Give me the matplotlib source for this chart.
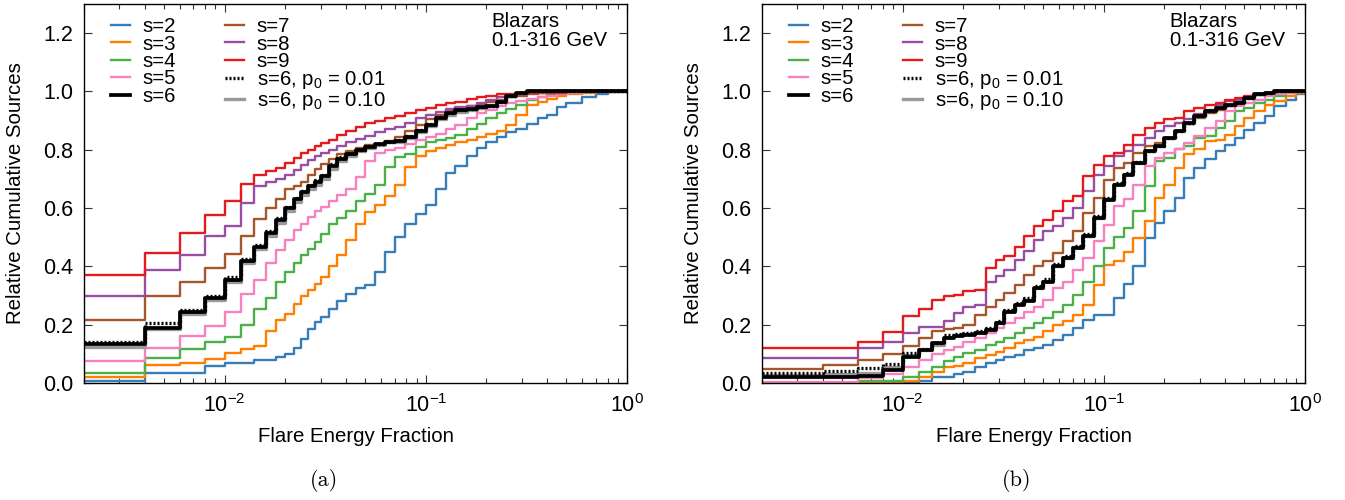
import numpy as np
import matplotlib
matplotlib.use('Agg')
import matplotlib.pyplot as plt
from matplotlib.lines import Line2D
from matplotlib.ticker import LogLocator, FixedLocator, FormatStrFormatter, NullFormatter

plt.rcParams['font.family'] = ['Liberation Sans', 'DejaVu Sans']
plt.rcParams['mathtext.fontset'] = 'custom'
plt.rcParams['mathtext.rm'] = 'Liberation Sans'
plt.rcParams['mathtext.it'] = 'Liberation Sans:italic'
plt.rcParams['mathtext.bf'] = 'Liberation Sans:bold'

FS = 14.7       # labels, legend, annotation
FS_TICK = 15.5  # tick labels

# ---- panel (a): flare energy fraction grid and cumulative fractions ----
xa = [0.002, 0.004, 0.006, 0.008, 0.010, 0.012, 0.014, 0.016, 0.018, 0.020, 0.022,
      0.024, 0.026, 0.028, 0.030, 0.033, 0.036, 0.040, 0.045, 0.050, 0.056, 0.063,
      0.070, 0.079, 0.089, 0.10, 0.112, 0.126, 0.14, 0.16, 0.18, 0.20, 0.225, 0.25,
      0.28, 0.32, 0.36, 0.40, 0.45, 0.50, 0.6, 0.7, 0.8, 1.0]
a_s2 = [0.007, 0.033, 0.036, 0.058, 0.068, 0.070, 0.079, 0.08, 0.09, 0.10, 0.12,
        0.15, 0.185, 0.21, 0.225, 0.255, 0.28, 0.305, 0.325, 0.335, 0.38, 0.45,
        0.50, 0.545, 0.58, 0.61, 0.665, 0.72, 0.745, 0.78, 0.805, 0.825, 0.845, 0.86,
        0.87, 0.89, 0.91, 0.92, 0.945, 0.96, 0.98, 0.99, 0.997, 1.0]
a_s3 = [0.021, 0.062, 0.070, 0.082, 0.102, 0.116, 0.127, 0.18, 0.215, 0.235, 0.27,
        0.30, 0.32, 0.34, 0.365, 0.40, 0.44, 0.49, 0.545, 0.585, 0.61, 0.64,
        0.68, 0.74, 0.78, 0.795, 0.805, 0.815, 0.825, 0.835, 0.845, 0.855, 0.865, 0.885,
        0.92, 0.955, 0.965, 0.975, 0.985, 0.99, 0.995, 1.0, 1.0, 1.0]
a_s4 = [0.035, 0.085, 0.116, 0.139, 0.157, 0.199, 0.253, 0.29, 0.345, 0.38, 0.41,
        0.44, 0.46, 0.485, 0.51, 0.545, 0.565, 0.59, 0.625, 0.65, 0.68, 0.74,
        0.775, 0.785, 0.81, 0.825, 0.835, 0.84, 0.85, 0.87, 0.89, 0.91, 0.925, 0.94,
        0.955, 0.97, 0.98, 0.988, 0.992, 0.995, 1.0, 1.0, 1.0, 1.0]
a_s5 = [0.077, 0.119, 0.162, 0.196, 0.245, 0.306, 0.354, 0.41, 0.455, 0.49, 0.525,
        0.545, 0.57, 0.59, 0.605, 0.625, 0.645, 0.665, 0.705, 0.76, 0.79, 0.80,
        0.806, 0.82, 0.835, 0.845, 0.855, 0.87, 0.885, 0.91, 0.925, 0.935, 0.95, 0.96,
        0.968, 0.975, 0.98, 0.985, 0.99, 0.995, 1.0, 1.0, 1.0, 1.0]
a_s6 = [0.133, 0.190, 0.242, 0.291, 0.354, 0.420, 0.468, 0.515, 0.56, 0.60, 0.63,
        0.655, 0.675, 0.69, 0.71, 0.745, 0.77, 0.785, 0.80, 0.81, 0.82, 0.828,
        0.83, 0.845, 0.865, 0.885, 0.91, 0.925, 0.935, 0.94, 0.945, 0.95, 0.965, 0.985,
        0.995, 1.0, 1.0, 1.0, 1.0, 1.0, 1.0, 1.0, 1.0, 1.0]
a_p001 = [0.142, 0.205, 0.251, 0.299, 0.363, 0.425, 0.472, 0.52, 0.565, 0.605, 0.635,
          0.66, 0.68, 0.695, 0.715, 0.75, 0.775, 0.79, 0.80, 0.812, 0.82, 0.828,
          0.832, 0.848, 0.868, 0.888, 0.912, 0.925, 0.935, 0.94, 0.945, 0.95, 0.965, 0.985,
          0.995, 1.0, 1.0, 1.0, 1.0, 1.0, 1.0, 1.0, 1.0, 1.0]
a_p010 = [0.125, 0.185, 0.236, 0.285, 0.345, 0.412, 0.46, 0.505, 0.55, 0.59, 0.62,
          0.645, 0.665, 0.68, 0.70, 0.735, 0.76, 0.78, 0.795, 0.805, 0.815, 0.825,
          0.828, 0.84, 0.86, 0.88, 0.905, 0.92, 0.93, 0.938, 0.944, 0.95, 0.963, 0.983,
          0.995, 1.0, 1.0, 1.0, 1.0, 1.0, 1.0, 1.0, 1.0, 1.0]
a_s7 = [0.216, 0.299, 0.348, 0.394, 0.443, 0.503, 0.562, 0.60, 0.63, 0.665, 0.675,
        0.69, 0.715, 0.735, 0.75, 0.77, 0.785, 0.795, 0.805, 0.815, 0.82, 0.83,
        0.845, 0.865, 0.885, 0.905, 0.92, 0.935, 0.942, 0.95, 0.958, 0.965, 0.97, 0.98,
        0.985, 0.99, 0.995, 0.998, 1.0, 1.0, 1.0, 1.0, 1.0, 1.0]
a_s8 = [0.299, 0.388, 0.440, 0.505, 0.537, 0.617, 0.675, 0.69, 0.70, 0.715, 0.73,
        0.749, 0.765, 0.78, 0.79, 0.80, 0.812, 0.826, 0.837, 0.848, 0.862, 0.872,
        0.878, 0.892, 0.908, 0.92, 0.93, 0.94, 0.945, 0.95, 0.96, 0.97, 0.98, 0.985,
        0.99, 0.995, 1.0, 1.0, 1.0, 1.0, 1.0, 1.0, 1.0, 1.0]
a_s9 = [0.369, 0.446, 0.514, 0.577, 0.625, 0.684, 0.715, 0.726, 0.737, 0.755, 0.772,
        0.789, 0.80, 0.814, 0.824, 0.835, 0.849, 0.864, 0.879, 0.892, 0.898, 0.909,
        0.917, 0.927, 0.936, 0.944, 0.955, 0.96, 0.965, 0.975, 0.98, 0.985, 0.99, 0.993,
        0.995, 0.995, 0.995, 0.995, 0.995, 1.0, 1.0, 1.0, 1.0, 1.0]

# ---- panel (b) ----
xb = [0.002, 0.004, 0.006, 0.008, 0.010, 0.012, 0.014, 0.016, 0.018, 0.020, 0.023,
      0.026, 0.029, 0.032, 0.036, 0.040, 0.045, 0.050, 0.056, 0.063, 0.070, 0.079,
      0.089, 0.10, 0.112, 0.126, 0.14, 0.16, 0.18, 0.20, 0.225, 0.25, 0.28, 0.32,
      0.36, 0.40, 0.45, 0.50, 0.56, 0.63, 0.70, 0.80, 0.90, 1.0]
b_s2 = [0.0, 0.0, 0.0, 0.0, 0.0, 0.008, 0.020, 0.020, 0.031, 0.039, 0.056,
        0.068, 0.079, 0.090, 0.096, 0.114, 0.119, 0.131, 0.148, 0.165, 0.188, 0.216,
        0.234, 0.234, 0.291, 0.34, 0.40, 0.497, 0.549, 0.589, 0.634, 0.703, 0.738, 0.767,
        0.795, 0.818, 0.841, 0.869, 0.892, 0.915, 0.95, 0.972, 0.99, 1.0]
b_s3 = [0.0, 0.0, 0.002, 0.002, 0.008, 0.022, 0.039, 0.056, 0.060, 0.068, 0.085,
        0.096, 0.108, 0.119, 0.136, 0.148, 0.159, 0.177, 0.199, 0.211, 0.234, 0.268,
        0.337, 0.406, 0.42, 0.45, 0.497, 0.555, 0.634, 0.68, 0.738, 0.784, 0.801, 0.83,
        0.835, 0.852, 0.881, 0.909, 0.932, 0.955, 0.967, 0.984, 0.995, 1.0]
b_s4 = [0.0, 0.0, 0.008, 0.008, 0.022, 0.039, 0.056, 0.077, 0.090, 0.102, 0.114,
        0.131, 0.142, 0.154, 0.171, 0.188, 0.205, 0.222, 0.245, 0.268, 0.302, 0.348,
        0.40, 0.463, 0.50, 0.53, 0.589, 0.675, 0.761, 0.772, 0.801, 0.812, 0.841, 0.847,
        0.875, 0.898, 0.932, 0.944, 0.961, 0.972, 0.984, 0.995, 1.0, 1.0]
b_s5 = [0.005, 0.005, 0.016, 0.031, 0.056, 0.079, 0.098, 0.113, 0.125, 0.142, 0.154,
        0.171, 0.188, 0.205, 0.222, 0.245, 0.262, 0.285, 0.325, 0.348, 0.388, 0.428,
        0.486, 0.543, 0.606, 0.63, 0.68, 0.744, 0.772, 0.79, 0.801, 0.824, 0.847, 0.875,
        0.898, 0.932, 0.95, 0.961, 0.972, 0.984, 0.99, 0.995, 1.0, 1.0]
b_s6 = [0.022, 0.022, 0.024, 0.045, 0.090, 0.113, 0.136, 0.154, 0.160, 0.165, 0.171,
        0.182, 0.205, 0.245, 0.268, 0.28, 0.325, 0.348, 0.40, 0.428, 0.463, 0.503,
        0.566, 0.629, 0.68, 0.715, 0.755, 0.795, 0.812, 0.841, 0.864, 0.892, 0.915, 0.932,
        0.944, 0.953, 0.961, 0.976, 0.99, 0.995, 1.0, 1.0, 1.0, 1.0]
b_p001 = [0.033, 0.042, 0.050, 0.064, 0.102, 0.117, 0.136, 0.165, 0.168, 0.172, 0.178,
          0.19, 0.212, 0.252, 0.275, 0.29, 0.333, 0.356, 0.408, 0.436, 0.47, 0.51,
          0.572, 0.635, 0.685, 0.72, 0.758, 0.797, 0.814, 0.842, 0.865, 0.892, 0.915, 0.932,
          0.944, 0.953, 0.961, 0.976, 0.99, 0.995, 1.0, 1.0, 1.0, 1.0]
b_p010 = [0.028, 0.032, 0.036, 0.055, 0.095, 0.112, 0.132, 0.158, 0.163, 0.168, 0.174,
          0.185, 0.207, 0.246, 0.27, 0.284, 0.327, 0.35, 0.402, 0.43, 0.465, 0.505,
          0.567, 0.63, 0.681, 0.716, 0.755, 0.795, 0.812, 0.841, 0.864, 0.892, 0.915, 0.932,
          0.944, 0.953, 0.961, 0.976, 0.99, 0.995, 1.0, 1.0, 1.0, 1.0]
b_s7 = [0.048, 0.062, 0.079, 0.100, 0.128, 0.154, 0.177, 0.185, 0.19, 0.20, 0.234,
        0.262, 0.285, 0.308, 0.337, 0.371, 0.40, 0.417, 0.446, 0.486, 0.52, 0.583,
        0.635, 0.698, 0.738, 0.755, 0.79, 0.812, 0.824, 0.841, 0.864, 0.887, 0.909, 0.927,
        0.938, 0.95, 0.967, 0.978, 0.987, 0.995, 1.0, 1.0, 1.0, 1.0]
b_s8 = [0.085, 0.085, 0.119, 0.139, 0.170, 0.191, 0.191, 0.211, 0.240, 0.262, 0.268,
        0.348, 0.366, 0.388, 0.423, 0.452, 0.492, 0.52, 0.537, 0.566, 0.60, 0.658,
        0.715, 0.744, 0.778, 0.795, 0.815, 0.841, 0.864, 0.881, 0.892, 0.904, 0.921, 0.938,
        0.955, 0.967, 0.972, 0.981, 0.99, 0.995, 1.0, 1.0, 1.0, 1.0]
b_s9 = [0.119, 0.119, 0.139, 0.174, 0.231, 0.253, 0.285, 0.297, 0.303, 0.314, 0.320,
        0.394, 0.423, 0.434, 0.468, 0.503, 0.537, 0.56, 0.589, 0.623, 0.64, 0.709,
        0.749, 0.778, 0.79, 0.818, 0.85, 0.875, 0.892, 0.904, 0.909, 0.932, 0.944, 0.955,
        0.961, 0.969, 0.978, 0.984, 0.992, 0.995, 1.0, 1.0, 1.0, 1.0]

labels = ['s=2', 's=3', 's=4', 's=5', 's=6', 's=7', 's=8', 's=9',
          's=6, p$_0$ = 0.01', 's=6, p$_0$ = 0.10']
colors = ['#377eb8', '#ff7f00', '#4daf4a', '#f781bf', 'black',
          '#a65628', '#984ea3', '#e41a1c', 'black', '#999999']
y_ticks = [0.0, 0.2, 0.4, 0.6, 0.8, 1.0, 1.2]


def styles(i):
    if i == 4:
        return dict(color=colors[i], lw=2.7, ls='-')
    if i == 8:
        return dict(color=colors[i], lw=2.4, ls=(0, (0.6, 0.6)))
    if i == 9:
        return dict(color=colors[i], lw=2.4, ls='-')
    return dict(color=colors[i], lw=1.7, ls='-')


def draw_panel(ax, x, curves):
    # colored curves first, then the p0 variants and s=6 on top
    order = [0, 1, 2, 3, 5, 6, 7, 9, 8, 4]
    for i in order:
        ax.step(x, curves[i], where='post', **styles(i))
    ax.set_xscale('log')
    ax.set_xlim(0.002, 1.0)
    ax.set_ylim(0.0, 1.3)
    ax.yaxis.set_major_locator(FixedLocator(y_ticks))
    ax.yaxis.set_major_formatter(FormatStrFormatter('%.1f'))
    ax.xaxis.set_major_locator(LogLocator(base=10, numticks=10))
    ax.xaxis.set_minor_locator(LogLocator(base=10, subs=np.arange(2, 10), numticks=20))
    ax.xaxis.set_minor_formatter(NullFormatter())
    ax.tick_params(which='both', direction='in', top=True, right=True,
                   labelsize=FS_TICK, width=0.8, color='#333333')
    ax.tick_params(which='major', length=6, pad=8)
    ax.tick_params(which='minor', length=3.5)
    for sp in ax.spines.values():
        sp.set_linewidth(1.0)
    ax.set_xlabel('Flare Energy Fraction', fontsize=FS)
    ax.set_ylabel('Relative Cumulative Sources', fontsize=FS)
    ax.xaxis.set_label_coords(0.5, -0.115)
    ax.yaxis.set_label_coords(-0.108, 0.5)
    ax.text(0.751, 0.978, 'Blazars\n0.1-316 GeV', transform=ax.transAxes,
            fontsize=FS, va='top', ha='left', linespacing=0.98)
    handles = [Line2D([], [], **styles(i)) for i in range(10)]
    ax.legend(handles, labels, ncol=2, loc='upper left', bbox_to_anchor=(0.025, 1.0),
              frameon=False, fontsize=FS, handlelength=0.95, handletextpad=0.6,
              labelspacing=-0.08, columnspacing=2.4, borderpad=0.15)


fig = plt.figure(figsize=(13.45, 5.0), dpi=100)
ax_a = fig.add_axes([84 / 1345, 1 - 383 / 500, 543 / 1345, 379 / 500])
ax_b = fig.add_axes([762 / 1345, 1 - 383 / 500, 543 / 1345, 379 / 500])

draw_panel(ax_a, xa, [a_s2, a_s3, a_s4, a_s5, a_s6, a_s7, a_s8, a_s9, a_p001, a_p010])
draw_panel(ax_b, xb, [b_s2, b_s3, b_s4, b_s5, b_s6, b_s7, b_s8, b_s9, b_p001, b_p010])

fig.text(324 / 1345, 1 - 480 / 500, '(a)', family='cmr10', fontsize=16, ha='center', va='center')
fig.text(1017 / 1345, 1 - 480 / 500, '(b)', family='cmr10', fontsize=16, ha='center', va='center')

fig.savefig('out.png', dpi=100)
